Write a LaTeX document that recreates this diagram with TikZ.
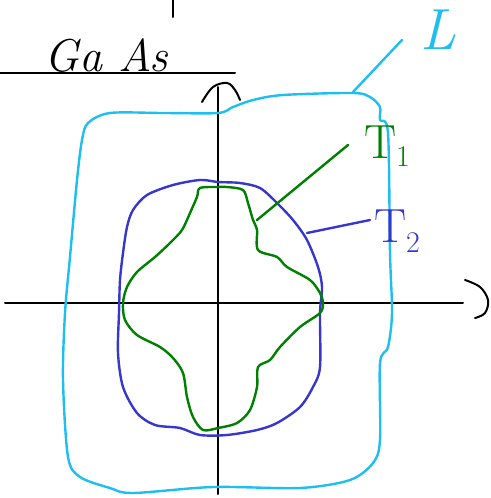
\documentclass[tikz,border=0pt]{standalone}
\begin{document}
\begin{tikzpicture}[x=1pt,y=-1pt,
  ink/.style={line width=2pt,line cap=round,line join=round},
  axis/.style={ink,black},
  outer/.style={ink,color={rgb,255:red,30;green,190;blue,240},line width=2.4pt},
  midc/.style={ink,color={rgb,255:red,55;green,55;blue,205},line width=2.4pt},
  innc/.style={ink,color={rgb,255:red,0;green,128;blue,0},line width=2.4pt},
  lbl/.style={inner sep=0pt,anchor=base}]
\useasboundingbox (0,0) rectangle (490,498);
% top tick and GaAs label
\coordinate (tickA) at (173,0);
\coordinate (tickB) at (173,17);
\draw[axis] (tickA) -- (tickB);
\node[lbl,font=\fontsize{46}{46}\selectfont\itshape] (gaas) at (106,71) {Ga As};
\coordinate (ulA) at (0,73);
\coordinate (ulB) at (235,73);
\draw[axis] (ulA) -- (ulB);
% axes
\coordinate (xl) at (5,303);
\coordinate (xr) at (463,303);
\coordinate (yt) at (218,87);
\coordinate (yb) at (218,494);
\draw[axis] (xl) -- (xr);
\draw[axis] (yt) -- (yb);
\draw[axis] plot[smooth,tension=0.6] coordinates {(202,102) (213,87) (227,83) (235,90) (240,100)};
\draw[axis] plot[smooth,tension=0.6] coordinates {(465,280) (480,287) (488,300) (485,313) (475,318)};
% outer cyan curve L
\draw[outer] plot[smooth cycle,tension=0.5] coordinates {
 (218,113) (163,113) (110,113) (88,123) (82,140) (77,180) (70,257) (65,313)
 (63,380) (68,457) (80,477) (110,488) (133,493) (213,487) (300,488) (350,480)
 (373,463) (380,440) (380,363) (388,347) (392,313) (390,253) (388,133)
 (380,120) (380,107) (370,97) (353,93) (283,95) (253,100) (233,107)};
\coordinate (Lend) at (353,92);
\coordinate (Lstart) at (402,40);
\draw[outer] (Lend) -- (Lstart);
\node[lbl,text={rgb,255:red,30;green,190;blue,240},font=\fontsize{58}{58}\selectfont\itshape] (L) at (438,49) {L};
% blue curve T2
\draw[midc] plot[smooth cycle,tension=0.5] coordinates {
 (218,182) (200,180) (173,185) (147,195) (133,210) (127,227) (123,253) (120,280)
 (119,313) (118,353) (123,387) (137,413) (155,425) (180,428) (200,435) (227,435)
 (257,430) (277,423) (300,407) (313,387) (320,367) (320,313) (322,287) (318,267)
 (307,240) (293,220) (277,203) (260,188) (240,183)};
\coordinate (T2end) at (307,233);
\coordinate (T2start) at (370,220);
\draw[midc] (T2end) -- (T2start);
\node[lbl,text={rgb,255:red,55;green,55;blue,205},font=\fontsize{48}{48}\selectfont] (T2) at (397,242) {T\raisebox{-10pt}{\fontsize{30}{30}\selectfont 2}};
% green curve T1
\draw[innc] plot[smooth cycle,tension=0.5] coordinates {
 (218,187) (200,188) (197,197) (190,213) (182,230) (170,243) (155,257) (137,272)
 (127,287) (123,303) (125,320) (137,335) (160,347) (173,358) (183,373) (187,397)
 (193,417) (203,430) (218,428) (237,423) (250,410) (257,387) (258,367) (270,360)
 (280,347) (300,327) (320,313) (323,303) (320,293) (310,280) (287,267) (277,257)
 (258,250) (257,230) (253,220) (248,203) (243,190) (227,187)};
\coordinate (T1end) at (257,220);
\coordinate (T1start) at (348,145);
\draw[innc] (T1end) -- (T1start);
\node[lbl,text={rgb,255:red,0;green,128;blue,0},font=\fontsize{48}{48}\selectfont] (T1) at (387,158) {T\raisebox{-8pt}{\fontsize{30}{30}\selectfont 1}};
\end{tikzpicture}
\end{document}
